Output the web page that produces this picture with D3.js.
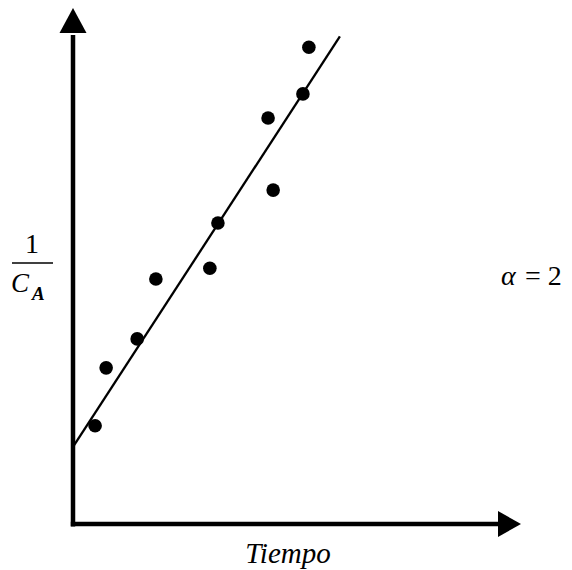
<!DOCTYPE html>
<html>
<head>
<meta charset="utf-8">
<script src="https://cdn.jsdelivr.net/npm/d3@7"></script>
<style>
  html, body { margin: 0; padding: 0; background: #fff; }
  svg { display: block; }
  svg text { font-family: "Liberation Serif", "Times New Roman", serif; }
</style>
</head>
<body>
<script>
// Measured concentration data: time vs 1/C_A (second-order reaction)
const tiempo   = [0.52, 0.78, 1.51, 1.95, 3.22, 3.41, 4.59, 4.71, 5.41, 5.55];
const invCA    = [2.00, 3.18, 3.77, 4.99, 5.21, 6.13, 8.27, 6.80, 8.76, 9.71];

// Fitted straight line (endpoints in data units)
const fitT = [0, 6.28];
const fitY = [1.57, 9.93];

const xLabel = "Tiempo";
const orderLabel = "= 2";

const W = 572, H = 570;
const svg = d3.select("body").append("svg")
  .attr("width", W).attr("height", H);

const x = d3.scaleLinear().domain([0, 10]).range([73, 498]);
const y = d3.scaleLinear().domain([0, 10]).range([524, 33]);

const ink = "#000";

// Axes
const [x0, x1] = x.range();
const [y0, y1] = y.range();
svg.append("line")
  .attr("x1", x0).attr("y1", y0 + 2.5)
  .attr("x2", x0).attr("y2", y1 + 2)
  .attr("stroke", ink).attr("stroke-width", 4.5);
svg.append("line")
  .attr("x1", x0 - 2.2).attr("y1", y0)
  .attr("x2", x1 + 2).attr("y2", y0)
  .attr("stroke", ink).attr("stroke-width", 4.5);

// Arrow heads
svg.append("path")
  .attr("d", `M${x0},${y1 - 25} L${x0 + 13.5},${y1} L${x0 - 13.5},${y1} Z`)
  .attr("fill", ink);
svg.append("path")
  .attr("d", `M${x1 + 23},${y0} L${x1},${y0 - 13} L${x1},${y0 + 13} Z`)
  .attr("fill", ink);

// Fit line
const fitLine = d3.line().x(d => x(d[0])).y(d => y(d[1]));
svg.append("path")
  .attr("d", fitLine(d3.zip(fitT, fitY)))
  .attr("fill", "none")
  .attr("stroke", ink)
  .attr("stroke-width", 2.3);

// Data points
svg.selectAll("circle.pt")
  .data(d3.zip(tiempo, invCA))
  .join("circle")
  .attr("class", "pt")
  .attr("cx", d => x(d[0]))
  .attr("cy", d => y(d[1]))
  .attr("r", 6.8)
  .attr("fill", ink);

// Y label: 1 / C_A
svg.append("text")
  .attr("x", 32).attr("y", 253)
  .attr("text-anchor", "middle")
  .attr("font-size", 28)
  .text("1");
svg.append("line")
  .attr("x1", 12).attr("x2", 53)
  .attr("y1", 263).attr("y2", 263)
  .attr("stroke", ink).attr("stroke-width", 1.6);
svg.append("text")
  .attr("x", 11).attr("y", 292)
  .attr("font-style", "italic")
  .attr("font-size", 27)
  .text("C");
svg.append("text")
  .attr("x", 32).attr("y", 300)
  .attr("font-style", "italic")
  .attr("font-weight", "bold")
  .attr("font-size", 19)
  .text("A");

// Reaction order
svg.append("text")
  .attr("x", 501).attr("y", 285)
  .attr("font-style", "italic")
  .attr("font-size", 28)
  .text("α");
svg.append("text")
  .attr("x", 525).attr("y", 285)
  .attr("font-size", 28)
  .text(orderLabel);

// X label
svg.append("text")
  .attr("x", 288).attr("y", 563)
  .attr("text-anchor", "middle")
  .attr("font-style", "italic")
  .attr("font-size", 29)
  .text(xLabel);
</script>
</body>
</html>
